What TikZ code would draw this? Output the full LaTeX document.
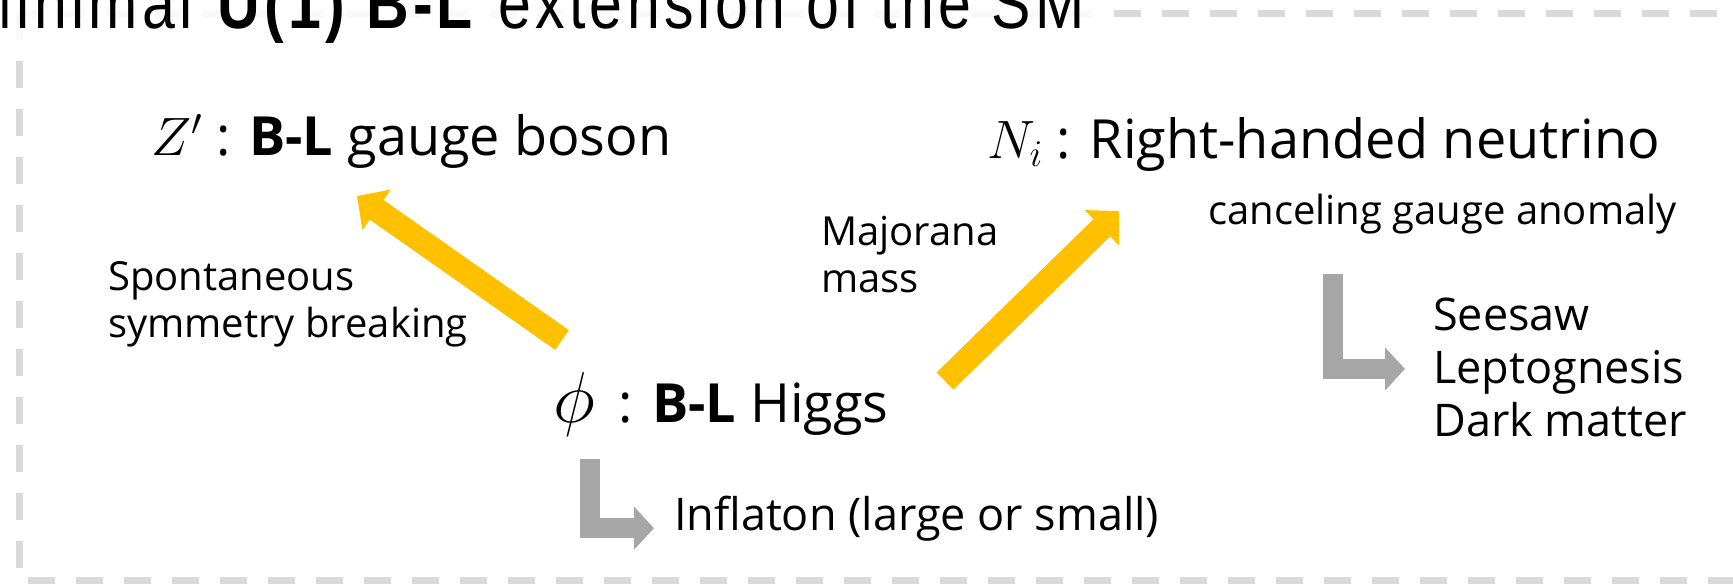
\RequirePackage{fix-cm}
\documentclass[tikz,border=0pt]{standalone}
\usepackage{fontspec}
\setmainfont{Open Sans}
\newfontfamily\titlefont[FakeStretch=0.82, LetterSpace=6]{Liberation Sans}
\usepackage{tikz}
\usetikzlibrary{arrows.meta,positioning,calc}
\definecolor{bnyellow}{HTML}{FFC000}
\definecolor{bngray}{HTML}{A6A6A6}
\definecolor{bndash}{HTML}{D9D9D9}
\tikzset{
  mainlbl/.style={font=\fontsize{54}{60}\selectfont, inner sep=0pt},
  sublbl/.style={font=\fontsize{45}{53}\selectfont, inner sep=0pt, align=left},
  notelbl/.style={font=\fontsize{40}{47}\selectfont, inner sep=0pt, align=left},
  titlelbl/.style={font=\titlefont\fontsize{72}{76}\selectfont, inner xsep=20pt, inner ysep=4pt,
               fill=white, fill opacity=0.85, text opacity=1},
  bxframe/.style={draw=bndash, line width=7pt, dash pattern=on 27pt off 21pt},
  yflow/.style={draw=bnyellow, line width=24pt, -{Triangle[length=24pt,width=48pt]}},
  gflow/.style={draw=bngray, line width=20pt, line join=miter, -{Triangle[length=20pt,width=42pt]}},
}
\begin{document}
\begin{tikzpicture}[x=1pt, y=-1pt]
  \useasboundingbox (0,0) rectangle (1733,584);
  \draw[bxframe] (19,13) rectangle (1765,580);
  \node[titlelbl, anchor=base east] (title) at (1105,28) {Minimal \textbf{U(1) B-L} extension of the SM};

  \node[mainlbl, anchor=base west] (zp) at (151,155) {$Z'$ : \textbf{B-L} gauge boson};
  \node[mainlbl, anchor=base west] (nr) at (987,158) {$N_i$ : Right-handed neutrino};
  \node[mainlbl, anchor=base west] (phi) at (553,422) {{\fontsize{72}{72}\selectfont$\phi$}\hspace{10pt} : \textbf{B-L} Higgs};

  \node[notelbl, anchor=base west] (anom) at (1208,224) {canceling gauge anomaly};
  \node[notelbl, anchor=base west] (maj) at (821,292) {Majorana\\mass};
  \node[notelbl, anchor=base west] (ssb) at (108,337) {Spontaneous\\symmetry breaking};

  \node[sublbl, anchor=base west] (infl) at (674,530) {Inflaton (large or small)};
  \node[sublbl, anchor=base west] (pheno) at (1433,436) {Seesaw\\Leptognesis\\Dark matter};

  \coordinate (ssbtail) at (562,340);
  \coordinate (ssbtip) at (357,196);
  \coordinate (majtail) at (945,381);
  \coordinate (majtip) at (1119,211);
  \draw[yflow] (ssbtail) -- (ssbtip);
  \draw[yflow] (majtail) -- (majtip);

  \coordinate (infltop) at (590,459);
  \coordinate (phenotop) at (1333,274);
  \draw[gflow] (infltop) |- ([xshift=-20pt,yshift=-10pt]infl.west);
  \draw[gflow] (phenotop) |- ([xshift=-28pt,yshift=-2pt]pheno.west);
\end{tikzpicture}
\end{document}
